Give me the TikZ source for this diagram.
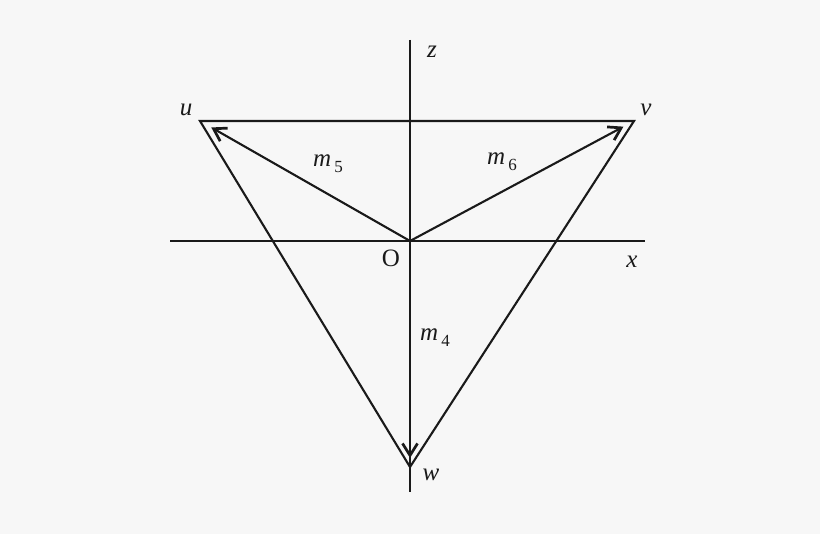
\documentclass[tikz,border=0pt]{standalone}
\usepackage{fontspec}
\setmainfont{Liberation Serif}
\usetikzlibrary{arrows.meta}
\definecolor{bg}{HTML}{F7F7F7}
\definecolor{ink}{HTML}{1A1A1A}
\newcommand{\msub}[1]{m\kern3pt\raisebox{-6pt}{\fontsize{17}{19}\selectfont\upshape #1}}
\tikzset{
  ln/.style={line width=2.1pt, draw=ink},
  vec/.style={ln, -{Straight Barb[length=12pt,width=15pt,line width=2.7pt]}},
  lab/.style={text=ink, font=\fontsize{25}{27}\selectfont\itshape, inner sep=0pt},
}
\begin{document}
\begin{tikzpicture}[x=1pt,y=-1pt]
\fill[bg] (0,0) rectangle (820,534);
\useasboundingbox (0,0) rectangle (820,534);
\coordinate (O) at (410,241);
\coordinate (u) at (200,121);
\coordinate (v) at (634,121);
\coordinate (w) at (410,467);
\coordinate (zt) at (410,40);
\coordinate (zb) at (410,492);
\coordinate (xl) at (170,241);
\coordinate (xr) at (645,241);
\draw[ln] (zt) -- (zb);
\draw[ln] (xl) -- (xr);
\draw[ln, line join=miter] (u) -- (v) -- (w) -- cycle;
\draw[vec, shorten >=13pt] (O) -- (u);
\draw[vec, shorten >=12pt] (O) -- (v);
\draw[vec, shorten >=9pt] (O) -- (w);
\node[lab] (lu) at (186,110) {u};
\node[lab] (lv) at (646,110) {v};
\node[lab] (lz) at (432,52) {z};
\node[lab] (lx) at (632,262) {x};
\node[lab] (lw) at (431,475) {w};
\node[lab, font=\fontsize{25}{27}\selectfont\upshape] (lO) at (391,258) {O};
\node[lab] (m5) at (328,164) {\msub{5}};
\node[lab] (m6) at (502,162) {\msub{6}};
\node[lab] (m4) at (435,338) {\msub{4}};
\end{tikzpicture}
\end{document}
